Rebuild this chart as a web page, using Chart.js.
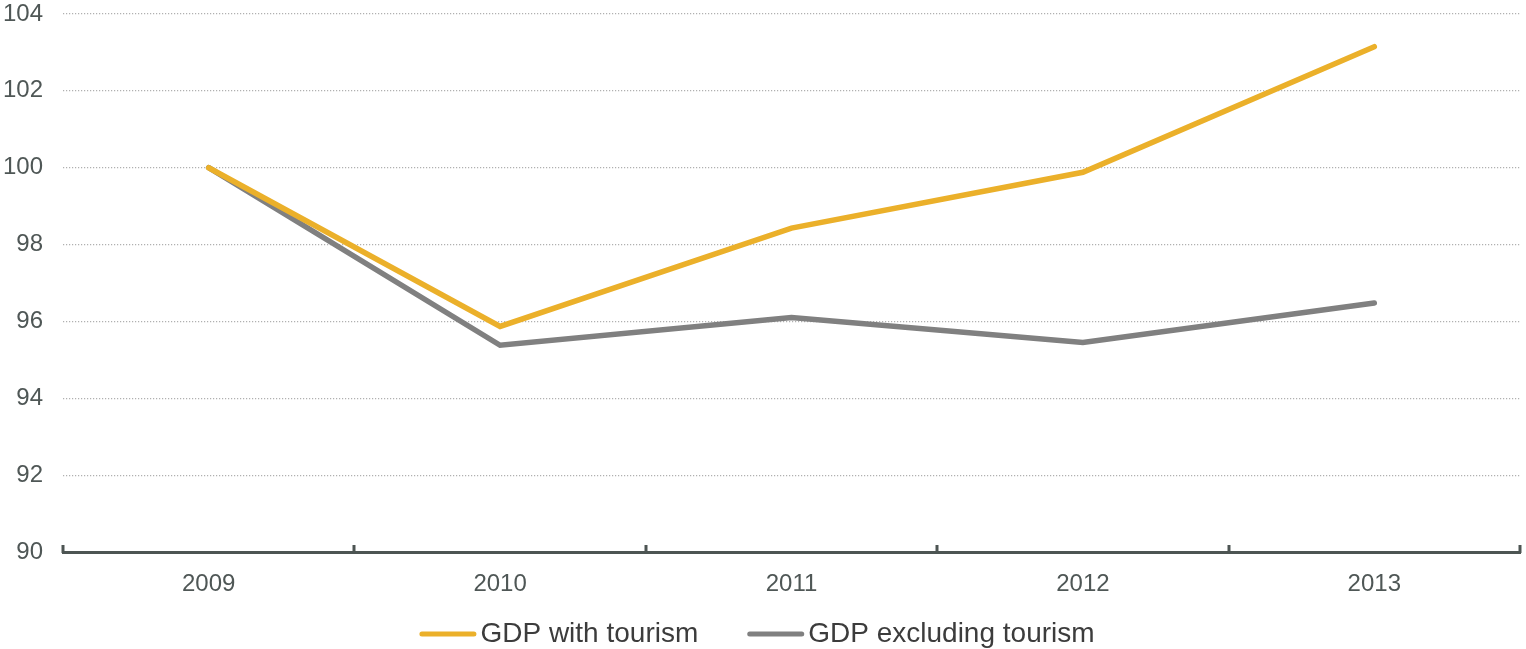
<!DOCTYPE html>
<html>
<head>
<meta charset="utf-8">
<script src="https://cdn.jsdelivr.net/npm/chart.js@4.4.1/dist/chart.umd.min.js"></script>
<style>
  html, body { margin: 0; padding: 0; background: #ffffff; }
  #wrap { width: 1526px; height: 649px; position: relative; }
</style>
</head>
<body>
<div id="wrap"><canvas id="gdpChart"></canvas></div>
<script>
// GDP index, 2009 = 100
const years = ['2009', '2010', '2011', '2012', '2013'];
const gdpWithTourism = [100, 95.87, 98.43, 99.88, 103.15];
const gdpExcludingTourism = [100, 95.38, 96.1, 95.45, 96.48];
const yTickValues = [90, 92, 94, 96, 98, 100, 102, 104];
const seriesNames = ['GDP with tourism', 'GDP excluding tourism'];
const seriesColors = ['#EBB02A', '#808080'];

const axisColor = '#4d5553';
const labelColor = '#4f5756';
const fontFamily = '"Liberation Sans", Arial, Helvetica, sans-serif';

// Short upward tick marks on the category axis, placed at the category boundaries
const boundaryTicks = {
  id: 'boundaryTicks',
  afterDraw(chart, args, opts) {
    const x = chart.scales.x;
    const area = chart.chartArea;
    const n = chart.data.labels.length;
    const ctx = chart.ctx;
    const positions = [];
    for (let i = 0; i <= n; i++) {
      if (i === 0) positions.push(area.left);
      else if (i === n) positions.push(area.right);
      else positions.push((x.getPixelForValue(i - 1) + x.getPixelForValue(i)) / 2);
    }
    ctx.save();
    ctx.strokeStyle = opts.color;
    ctx.lineWidth = opts.width;
    ctx.lineCap = 'butt';
    positions.forEach(px => {
      const p = Math.round(px);
      ctx.beginPath();
      ctx.moveTo(p, area.bottom + 1);
      ctx.lineTo(p, area.bottom - opts.length);
      ctx.stroke();
    });
    ctx.restore();
  }
};

// Legend row under the chart: a short line swatch followed by the series name
const lineLegend = {
  id: 'lineLegend',
  afterDraw(chart, args, opts) {
    const ctx = chart.ctx;
    ctx.save();
    ctx.font = opts.font;
    ctx.textBaseline = 'middle';
    ctx.textAlign = 'left';
    const items = chart.data.datasets.map(ds => ({
      text: ds.label,
      color: ds.borderColor,
      w: ctx.measureText(ds.label).width
    }));
    let total = 0;
    items.forEach((it, i) => {
      total += opts.swatch + opts.textGap + it.w + (i < items.length - 1 ? opts.itemGap : 0);
    });
    let x = chart.width / 2 + opts.centerShift - total / 2;
    const y = opts.y;
    items.forEach(it => {
      ctx.strokeStyle = it.color;
      ctx.lineWidth = opts.lineWidth;
      ctx.lineCap = 'round';
      ctx.beginPath();
      ctx.moveTo(x + opts.lineWidth / 2, y);
      ctx.lineTo(x + opts.swatch - opts.lineWidth / 2, y);
      ctx.stroke();
      x += opts.swatch + opts.textGap;
      ctx.fillStyle = opts.color;
      ctx.fillText(it.text, x, y);
      x += it.w + opts.itemGap;
    });
    ctx.restore();
  }
};

const lineStyle = {
  borderWidth: 5.5,
  borderCapStyle: 'round',
  borderJoinStyle: 'miter',
  pointRadius: 0,
  pointHoverRadius: 0,
  tension: 0,
  fill: false
};

new Chart(document.getElementById('gdpChart'), {
  type: 'line',
  data: {
    labels: years,
    datasets: [
      Object.assign({
        label: seriesNames[0],
        data: gdpWithTourism,
        borderColor: seriesColors[0],
        backgroundColor: seriesColors[0]
      }, lineStyle),
      Object.assign({
        label: seriesNames[1],
        data: gdpExcludingTourism,
        borderColor: seriesColors[1],
        backgroundColor: seriesColors[1]
      }, lineStyle)
    ]
  },
  options: {
    responsive: true,
    maintainAspectRatio: false,
    animation: false,
    layout: { padding: { top: 0, left: 0, right: 6, bottom: 40 } },
    plugins: {
      legend: { display: false },
      tooltip: { enabled: false },
      boundaryTicks: { color: axisColor, width: 3, length: 7 },
      lineLegend: {
        font: '28px ' + fontFamily,
        color: '#3c3c3c',
        swatch: 57,
        textGap: 4,
        itemGap: 49,
        lineWidth: 5,
        y: 634,
        centerShift: -6
      }
    },
    scales: {
      x: {
        offset: true,
        grid: { display: false, offset: true },
        border: { display: true, color: axisColor, width: 3 },
        ticks: {
          color: labelColor,
          font: { family: fontFamily, size: 24 },
          padding: 10,
          maxRotation: 0
        },
        afterFit: scale => {
          scale.height = 57;
        }
      },
      y: {
        min: 90,
        max: 104,
        afterBuildTicks: scale => {
          scale.ticks = yTickValues.map(v => ({ value: v }));
        },
        afterFit: scale => {
          scale.width = 63;
          scale.paddingTop = 14;
          scale.paddingBottom = 0;
        },
        grid: {
          display: true,
          drawTicks: false,
          color: '#b0b0b0',
          lineWidth: 1.2
        },
        border: { display: false, dash: [1.2, 1.8] },
        ticks: {
          color: labelColor,
          font: { family: fontFamily, size: 24 },
          padding: 20
        }
      }
    }
  },
  plugins: [boundaryTicks, lineLegend]
});
</script>
</body>
</html>
